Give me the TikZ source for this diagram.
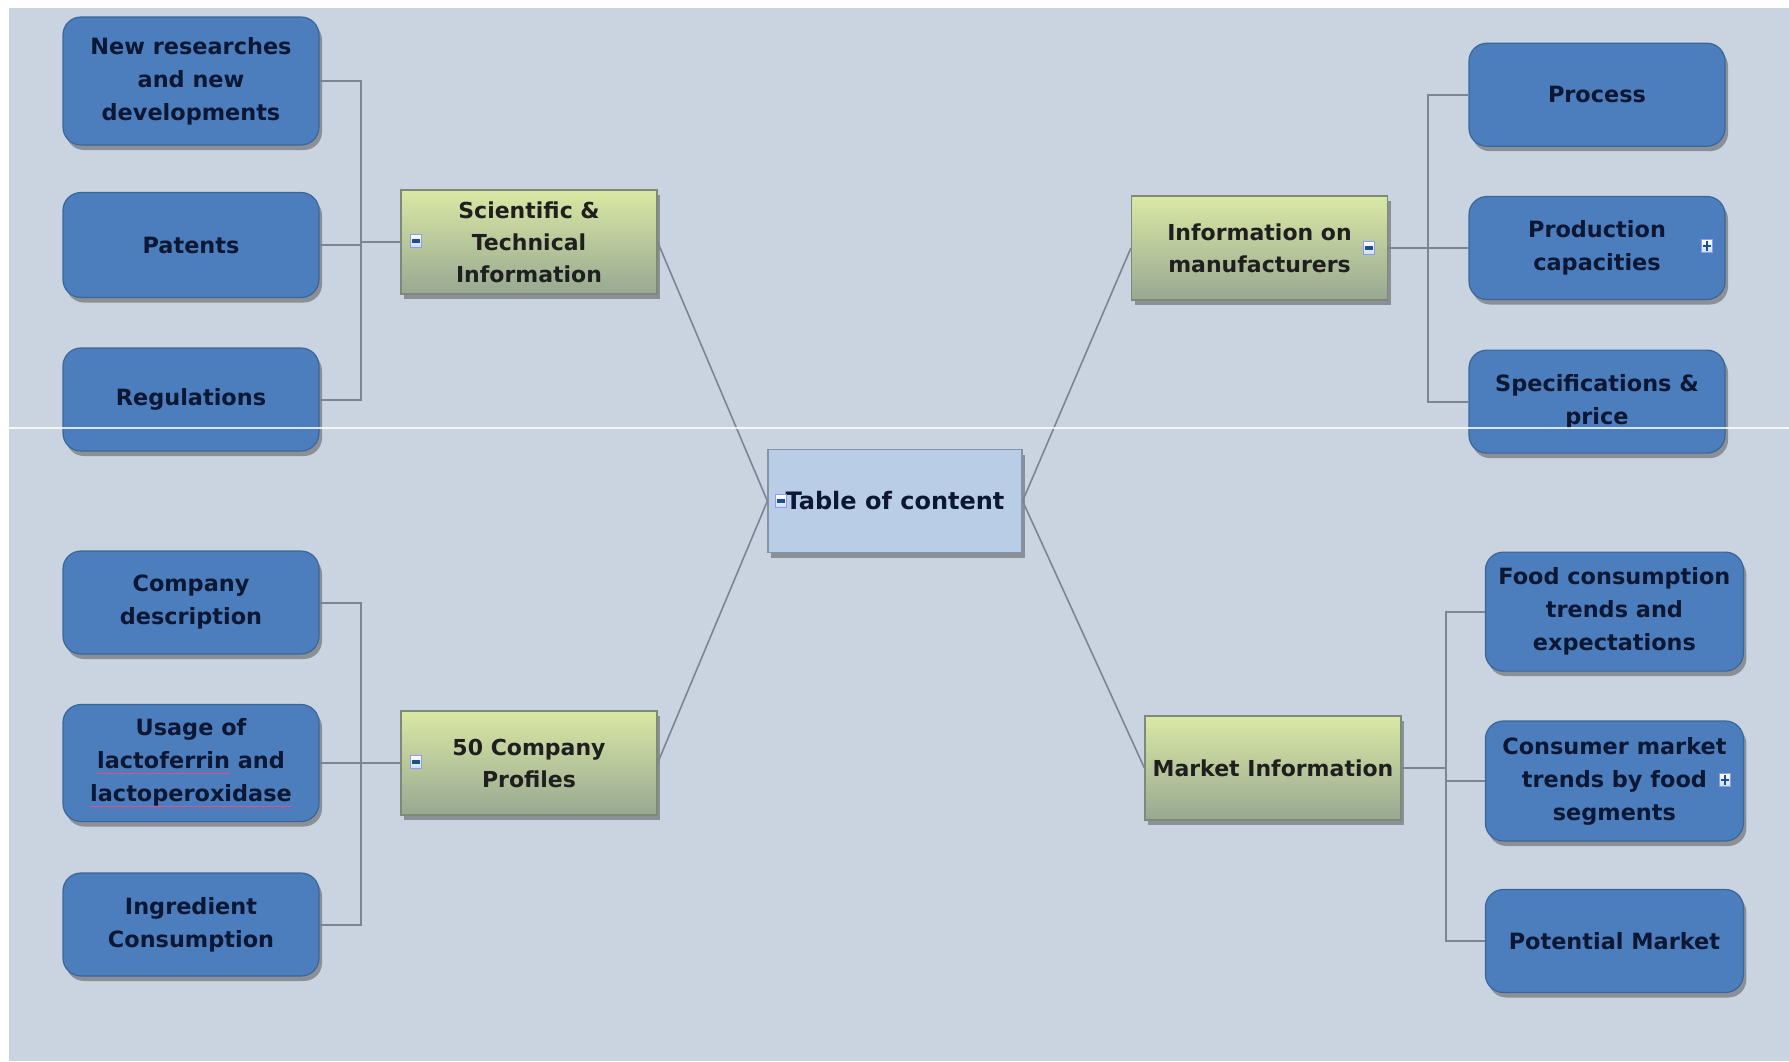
\documentclass[tikz,border=0pt]{standalone}
\usepackage{fontspec}
\setmainfont{DejaVu Sans}
\usetikzlibrary{shadows}
\definecolor{bg}{HTML}{CAD3E0}
\definecolor{bluebox}{HTML}{4C7EBD}
\definecolor{blueedge}{HTML}{3B6699}
\definecolor{navytext}{HTML}{0C1734}
\definecolor{greentop}{HTML}{DAE8A4}
\definecolor{greenbot}{HTML}{98A892}
\definecolor{greenedge}{HTML}{7E8A78}
\definecolor{tocfill}{HTML}{B9CDE6}
\definecolor{tocedge}{HTML}{8593A8}
\definecolor{linkgray}{HTML}{7D8594}
\definecolor{spellpink}{HTML}{E0508A}
\definecolor{iconfill}{HTML}{C9DDF2}
\definecolor{iconbar}{HTML}{1F4E8C}
\newcommand\spellmark[1]{\setbox0\hbox{#1}\rlap{\raisebox{-2.6pt}{\color{spellpink}\rule{\wd0}{0.7pt}}}#1}
\tikzset{
  boxshadow/.style={drop shadow={shadow xshift=1.5pt, shadow yshift=-2.5pt, opacity=0.45, fill=black!75}},
  leaf/.style={draw=blueedge, line width=0.6pt, fill=bluebox, rounded corners=9pt,
    minimum width=128pt, minimum height=51.5pt, align=center, text=navytext, inner sep=2pt,
    font=\bfseries\fontsize{11.2}{16.5}\selectfont, boxshadow},
  branch/.style={draw=greenedge, line width=0.6pt, top color=greentop, bottom color=greenbot,
    minimum width=128pt, minimum height=52pt, align=center, text=black!88, inner sep=2pt,
    font=\bfseries\fontsize{11}{16}\selectfont, boxshadow},
  rootbox/.style={draw=tocedge, line width=0.6pt, fill=tocfill, minimum width=127pt,
    minimum height=51.5pt, align=center, text=navytext,
    font=\bfseries\fontsize{12}{16}\selectfont, boxshadow},
  link/.style={draw=linkgray, line width=1pt},
  iconbase/.style={rectangle, inner sep=0pt, minimum width=5.5pt, minimum height=6.5pt,
    top color=white, bottom color=iconfill, draw=iconfill!70!blue, line width=0.3pt},
  minusicon/.style={iconbase, path picture={\draw[line width=1.6pt, draw=iconbar]
    ([xshift=0.9pt]path picture bounding box.west) -- ([xshift=-0.9pt]path picture bounding box.east);}},
  plusicon/.style={iconbase, path picture={\draw[line width=1pt, draw=iconbar]
    ([xshift=0.9pt]path picture bounding box.west) -- ([xshift=-0.9pt]path picture bounding box.east)
    ([yshift=0.9pt]path picture bounding box.south) -- ([yshift=-0.9pt]path picture bounding box.north);}},
}
\begin{document}
\begin{tikzpicture}[x=0.5pt,y=-0.5pt]
\useasboundingbox (0,0) rectangle (1789,1061);
\fill[white] (0,0) rectangle (1789,1061);
\fill[bg] (9,8) rectangle (1789,1061);

% centre
\node[rootbox] (toc) at (895,501) {Table of content};

% branches
\node[branch] (sci) at (529,242) {Scientific \&\\Technical\\Information};
\node[branch] (prof) at (529,763) {50 Company\\Profiles};
\node[branch] (manu) at (1259.5,248) {Information on\\manufacturers};
\node[branch] (market) at (1273,768) {Market Information};

% left leaves
\node[leaf, minimum height=64pt] (newres) at (191,81) {New researches\\and new\\developments};
\node[leaf, minimum height=52.5pt] (pat) at (191,245) {Patents};
\node[leaf] (reg) at (191,399.5) {Regulations};
\node[leaf] (compdesc) at (191,602.5) {Company\\description};
\node[leaf, minimum height=58.5pt] (usage) at (191,763) {Usage of\\\spellmark{lactoferrin} and\\\spellmark{lactoperoxidase}};
\node[leaf] (ingr) at (191,924.5) {Ingredient\\Consumption};

% right leaves
\node[leaf] (proc) at (1597,94.7) {Process};
\node[leaf] (prodcap) at (1597,248) {Production\\capacities};
\node[leaf] (spec) at (1597,401.6) {Specifications \&\\price};
\node[leaf, minimum width=129pt, minimum height=59.5pt] (food) at (1614.4,611.6) {Food consumption\\trends and\\expectations};
\node[leaf, minimum width=129pt, minimum height=60pt] (consumer) at (1614.4,781) {Consumer market\\trends by food\\segments};
\node[leaf, minimum width=129pt] (potential) at (1614.4,941) {Potential Market};

% bus coordinates
\coordinate (busL1) at (360.5,242);
\coordinate (busL2) at (360.5,763);
\coordinate (busR1) at (1428.4,248);
\coordinate (busR2) at (1445.5,768);

% tree connectors
\draw[link] (newres.east) -| (busL1) |- (reg.east);
\draw[link] (pat.east) -| (busL1) -- (sci.west);
\draw[link] (compdesc.east) -| (busL2) |- (ingr.east);
\draw[link] (usage.east) -- (prof.west);
\draw[link] (proc.west) -| (busR1) |- (spec.west);
\draw[link] (manu.east) -- (prodcap.west);
\draw[link] (food.west) -| (busR2) |- (potential.west);
\draw[link] (market.east) -- (busR2);
\draw[link] (consumer.west) -- (consumer.west -| busR2);

% diagonal connectors
\draw[link, line width=0.8pt] (sci.east) -- (toc.west);
\draw[link, line width=0.8pt] (prof.east) -- (toc.west);
\draw[link, line width=0.8pt] (manu.west) -- (toc.east);
\draw[link, line width=0.8pt] (market.west) -- (toc.east);

% expand/collapse icons
\node[minusicon] (icsci) at (416,241) {};
\node[minusicon] (icprof) at (416,762) {};
\node[minusicon] (icmanu) at (1369,248) {};
\node[minusicon] (ictoc) at (781,501) {};
\node[plusicon] (icprod) at (1707,246) {};
\node[plusicon] (iccons) at (1725,780) {};

% scan artefact line
\draw[white, line width=0.6pt, opacity=0.8] (9,428) -- (1789,428);
\end{tikzpicture}
\end{document}
